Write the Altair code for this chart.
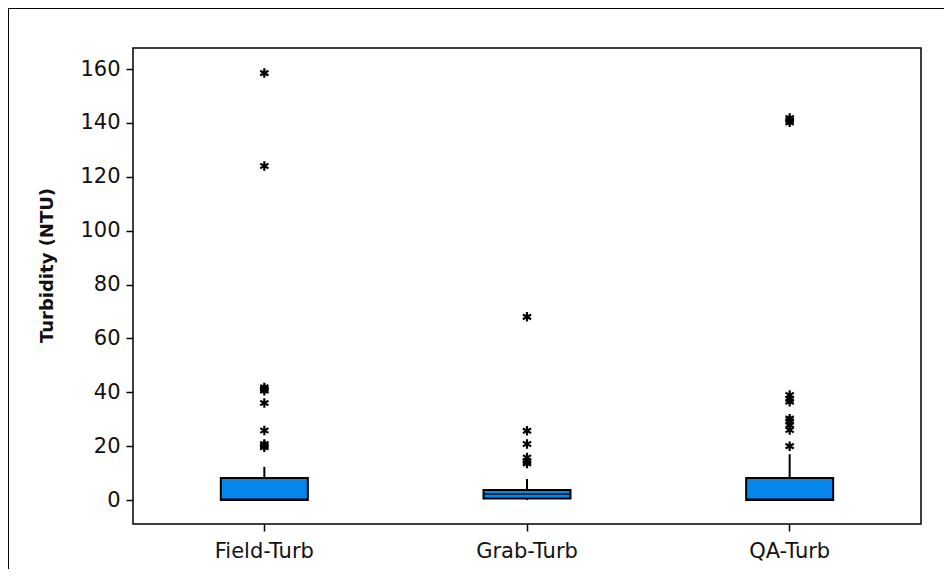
import altair as alt
import pandas as pd

# ---- data ----
groups = ["Field-Turb", "Grab-Turb", "QA-Turb"]
q1 = [0.0, 0.6, 0.0]
median = [0.3, 2.2, 0.3]
q3 = [8.2, 3.7, 8.2]
whisk_lo = [0.0, 0.0, 0.0]
whisk_hi = [12.3, 7.8, 17.0]

field_out = [158.5, 124.0, 41.8, 41.2, 40.6, 36.0, 25.8, 20.8, 20.2, 19.6]
grab_out = [68.0, 25.7, 20.8, 15.8, 14.4, 13.6]
qa_out = [141.8, 141.0, 140.2, 39.0, 37.5, 36.5, 30.2, 29.2, 27.8, 26.0, 20.0]

y_ticks = [0, 20, 40, 60, 80, 100, 120, 140, 160]

# ---- tables ----
stats = pd.DataFrame({"group": groups, "q1": q1, "median": median, "q3": q3,
                      "lo": whisk_lo, "hi": whisk_hi})
outl = pd.DataFrame({
    "group": [groups[0]] * len(field_out) + [groups[1]] * len(grab_out) + [groups[2]] * len(qa_out),
    "value": field_out + grab_out + qa_out,
})

W, H = 788, 476
yscale = alt.Scale(domain=[-8.9, 167.8], nice=False, zero=False)
xenc = alt.X("group:N", sort=groups,
             scale=alt.Scale(paddingInner=0, paddingOuter=0),
             axis=alt.Axis(title=None, labelAngle=0, labelFontSize=21, labelFont="DejaVu Sans",
                           labelColor="#111", tickColor="black", tickSize=7, tickWidth=1.5,
                           domain=False, labelPadding=9))
yax = alt.Axis(title="Turbidity (NTU)", values=y_ticks, labelFontSize=21, labelFont="DejaVu Sans",
               labelColor="#111", tickColor="black", tickSize=7, tickWidth=1.5, domain=False,
               grid=False, titleFont="DejaVu Sans", titleFontSize=18, titleFontWeight="bold",
               titleColor="#111", titleX=-77, titleY=217, labelPadding=6)

base = alt.Chart(stats)

whisker_hi = base.mark_rule(color="black", strokeWidth=2).encode(
    x=xenc, y=alt.Y("q3:Q", scale=yscale, axis=yax), y2="hi:Q")
whisker_lo = base.mark_rule(color="black", strokeWidth=2).encode(
    x=xenc, y=alt.Y("lo:Q", scale=yscale), y2="q1:Q")
box = base.mark_bar(size=87, color="#0787EC", stroke="black", strokeWidth=2).encode(
    x=xenc, y=alt.Y("q1:Q", scale=yscale), y2="q3:Q")
med = base.mark_tick(size=87, thickness=2, color="black").encode(
    x=xenc, y=alt.Y("median:Q", scale=yscale))

star = "M0,-1L0,1M-0.87,-0.5L0.87,0.5M-0.87,0.5L0.87,-0.5"
pts = alt.Chart(outl).mark_point(shape=star, size=90, filled=False, color="black",
                                 strokeWidth=2.2, opacity=1).encode(
    x=xenc, y=alt.Y("value:Q", scale=yscale))

frame = alt.Chart(stats).mark_rect(fill=None, stroke="black", strokeWidth=1.5).encode(
    x=alt.value(-125), x2=alt.value(W + 60), y=alt.value(-40), y2=alt.value(H + 120))

chart = alt.layer(frame, whisker_hi, whisker_lo, box, med, pts).properties(
    width=W, height=H,
    autosize=alt.AutoSizeParams(type="none"),
    padding={"left": 125, "top": 40, "right": 23, "bottom": 45},
    background="white",
).configure_view(stroke="black", strokeWidth=1.5)

chart.save("out.html", embed_options={"renderer": "svg", "actions": False})
